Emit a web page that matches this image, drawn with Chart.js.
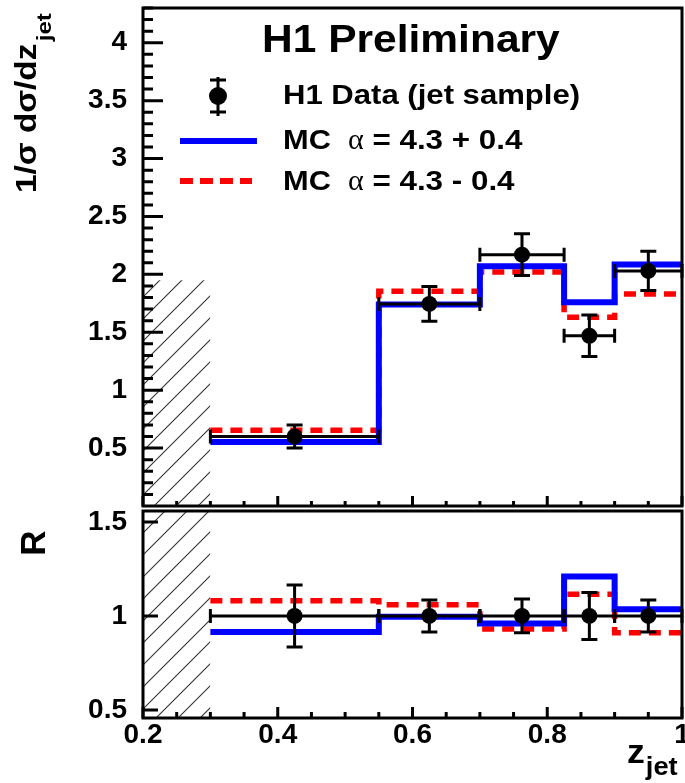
<!DOCTYPE html>
<html>
<head>
<meta charset="utf-8">
<title>H1 Preliminary - z_jet</title>
<script src="https://cdn.jsdelivr.net/npm/chart.js@4.4.0/dist/chart.umd.min.js"></script>
<style>
  html, body { margin: 0; padding: 0; background: #fff; overflow: hidden; }
  #chartTop { position: absolute; left: 0; top: 0; }
  #chartRatio { position: absolute; left: 0; top: 500px; }
</style>
</head>
<body>
<canvas id="chartTop" width="690" height="514"></canvas>
<canvas id="chartRatio" width="690" height="283"></canvas>
<script>
// bins in z_jet
var binEdges = [0.3, 0.55, 0.70, 0.825, 0.90, 1.0];
var binCenters = [0.425, 0.625, 0.7625, 0.8625, 0.95];

// upper panel: 1/sigma dsigma/dz
var dataTop = [0.60, 1.745, 2.17, 1.47, 2.03];
var dataTopErr = [0.10, 0.15, 0.18, 0.18, 0.17];
var mcPlusTop = [0.553, 1.74, 2.07, 1.76, 2.085];
var mcMinusTop = [0.655, 1.855, 2.02, 1.63, 1.83];

// lower panel: ratio R
var dataRatio = [1, 1, 1, 1, 1];
var dataRatioErr = [0.165, 0.085, 0.09, 0.125, 0.085];
var mcPlusRatio = [0.915, 0.995, 0.96, 1.21, 1.035];
var mcMinusRatio = [1.08, 1.06, 0.93, 1.115, 0.91];

// excluded region (hatched)
var hatchX = [0.2, 0.3];
var hatchTop = 1.95;
var hatchRatio = 1.6;

var xTicks = [0.2, 0.4, 0.6, 0.8, 1.0];
var yTicksTop = [0.5, 1, 1.5, 2, 2.5, 3, 3.5, 4];
var yTicksRatio = [0.5, 1, 1.5];

var legendLabels = ['H1 Data (jet sample)', 'MC  \u03b1 = 4.3 + 0.4', 'MC  \u03b1 = 4.3 - 0.4'];

var FAM = '"Liberation Sans", Arial, Helvetica, sans-serif';
Chart.defaults.font.family = FAM;
Chart.defaults.color = '#000';
var tickFont = { family: FAM, size: 28, weight: 'bold' };

function histPoints(vals) {
  var pts = vals.map(function (v, i) { return { x: binEdges[i], y: v }; });
  pts.push({ x: binEdges[binEdges.length - 1], y: vals[vals.length - 1] });
  return pts;
}

function centerPoints(vals) {
  return vals.map(function (v, i) { return { x: binCenters[i], y: v }; });
}

function hatchPattern(ctx) {
  var c = document.createElement('canvas');
  c.width = 22; c.height = 22;
  var g = c.getContext('2d');
  g.strokeStyle = '#333';
  g.lineWidth = 1.1;
  g.beginPath();
  g.moveTo(0, 22); g.lineTo(22, 0);
  g.moveTo(-11, 11); g.lineTo(11, -11);
  g.moveTo(11, 33); g.lineTo(33, 11);
  g.stroke();
  return ctx.createPattern(c, 'repeat');
}

function stretchText(ctx, text, x, y, font, sx) {
  ctx.save();
  ctx.font = font;
  ctx.translate(x, y);
  ctx.scale(sx, 1);
  ctx.fillText(text, 0, 0);
  var w = ctx.measureText(text).width * sx;
  ctx.restore();
  return w;
}

// error bars: x over the bin, y from errorY, drawn just before the markers
var errorBarPlugin = {
  id: 'errorBars',
  beforeDatasetDraw: function (chart, args) {
    var ds = chart.data.datasets[args.index];
    if (!ds.errorY) return;
    var ctx = chart.ctx, xs = chart.scales.x, ys = chart.scales.y;
    ctx.save();
    ctx.strokeStyle = '#000';
    ctx.lineWidth = 3;
    ds.data.forEach(function (p, i) {
      var px = xs.getPixelForValue(p.x), py = ys.getPixelForValue(p.y);
      var x0 = xs.getPixelForValue(binEdges[i]), x1 = xs.getPixelForValue(binEdges[i + 1]);
      var yt = ys.getPixelForValue(p.y + ds.errorY[i]), yb = ys.getPixelForValue(p.y - ds.errorY[i]);
      ctx.beginPath();
      ctx.moveTo(x0, py); ctx.lineTo(x1, py);
      ctx.moveTo(x0, py - 7); ctx.lineTo(x0, py + 7);
      ctx.moveTo(x1, py - 7); ctx.lineTo(x1, py + 7);
      ctx.moveTo(px, yt); ctx.lineTo(px, yb);
      ctx.moveTo(px - 8, yt); ctx.lineTo(px + 8, yt);
      ctx.moveTo(px - 8, yb); ctx.lineTo(px + 8, yb);
      ctx.stroke();
    });
    ctx.restore();
  }
};
Chart.register(errorBarPlugin);

// frame with inward ticks, ROOT style
function framePlugin(cfg) {
  return {
    id: 'frame',
    afterDatasetsDraw: function (chart) {
      var ctx = chart.ctx, a = chart.chartArea, xs = chart.scales.x, ys = chart.scales.y;
      ctx.save();
      ctx.strokeStyle = '#000';
      ctx.lineWidth = 3;
      ctx.beginPath();
      cfg.yMajor.forEach(function (v) {
        var py = ys.getPixelForValue(v);
        ctx.moveTo(a.left, py); ctx.lineTo(a.left + cfg.yMajLen, py);
      });
      cfg.yMinor.forEach(function (v) {
        var py = ys.getPixelForValue(v);
        ctx.moveTo(a.left, py); ctx.lineTo(a.left + cfg.yMinLen, py);
      });
      cfg.xMajor.forEach(function (v) {
        var px = xs.getPixelForValue(v);
        ctx.moveTo(px, a.bottom); ctx.lineTo(px, a.bottom - cfg.xMajLen);
      });
      cfg.xMinor.forEach(function (v) {
        var px = xs.getPixelForValue(v);
        ctx.moveTo(px, a.bottom); ctx.lineTo(px, a.bottom - cfg.xMinLen);
      });
      ctx.stroke();
      ctx.strokeRect(a.left, a.top, a.right - a.left, a.bottom - a.top);
      ctx.restore();
    }
  };
}

var yMinorTop = [];
for (var k = 1; k <= 43; k++) { if (k % 5 !== 0) yMinorTop.push(k / 10); }
var xMinor = [];
for (var m = 5; m <= 19; m++) { if (m % 4 !== 0) xMinor.push(m * 0.05); }

var topTextPlugin = {
  id: 'topText',
  afterDraw: function (chart) {
    var ctx = chart.ctx;
    ctx.save();
    ctx.fillStyle = '#000';
    ctx.strokeStyle = '#000';
    ctx.textBaseline = 'alphabetic';
    ctx.textAlign = 'left';

    stretchText(ctx, 'H1 Preliminary', 262, 52, 'bold 39px ' + FAM, 1.09);

    // legend: data marker
    ctx.lineWidth = 3;
    ctx.beginPath();
    ctx.moveTo(218, 77); ctx.lineTo(218, 116);
    ctx.moveTo(210, 80); ctx.lineTo(226, 80);
    ctx.moveTo(210, 112); ctx.lineTo(226, 112);
    ctx.stroke();
    ctx.beginPath();
    ctx.arc(218, 96, 9, 0, Math.PI * 2);
    ctx.fill();
    stretchText(ctx, legendLabels[0], 283, 104, 'bold 28px ' + FAM, 1.11);

    // legend: MC lines
    ctx.lineWidth = 6;
    ctx.strokeStyle = '#0000ff';
    ctx.beginPath(); ctx.moveTo(180, 141); ctx.lineTo(257, 141); ctx.stroke();
    ctx.strokeStyle = '#ff0000';
    ctx.setLineDash([13, 7]);
    ctx.beginPath(); ctx.moveTo(180, 181); ctx.lineTo(252, 181); ctx.stroke();
    ctx.setLineDash([]);

    var rows = [[legendLabels[1], 149], [legendLabels[2], 190]];
    rows.forEach(function (r) {
      var parts = r[0].split('\u03b1');
      var x = 283;
      x += stretchText(ctx, parts[0], x, r[1], 'bold 28px ' + FAM, 1.1);
      x += stretchText(ctx, '\u03b1', x, r[1], '30px "Liberation Serif", serif', 1.0);
      stretchText(ctx, parts[1], x, r[1], 'bold 28px ' + FAM, 1.12);
    });

    // y title 1/sigma dsigma/dz_jet
    ctx.save();
    ctx.translate(36, 193);
    ctx.rotate(-Math.PI / 2);
    ctx.scale(1.15, 1);
    ctx.font = 'bold 29px ' + FAM;
    ctx.fillText('1/\u03c3 d\u03c3/dz', 0, 0);
    var w = ctx.measureText('1/\u03c3 d\u03c3/dz').width;
    ctx.font = 'bold 21px ' + FAM;
    ctx.fillText('jet', w + 2, 15);
    ctx.restore();

    ctx.restore();
  }
};

var ratioTextPlugin = {
  id: 'ratioText',
  afterDraw: function (chart) {
    var ctx = chart.ctx;
    ctx.save();
    ctx.fillStyle = '#000';
    ctx.textBaseline = 'alphabetic';
    ctx.save();
    ctx.translate(45, 43);
    ctx.rotate(-Math.PI / 2);
    ctx.textAlign = 'center';
    ctx.font = 'bold 35px ' + FAM;
    ctx.fillText('R', 0, 0);
    ctx.restore();
    var zw = stretchText(ctx, 'z', 627, 263, 'bold 34px ' + FAM, 1.05);
    stretchText(ctx, 'jet', 627 + zw + 1, 275, 'bold 26px ' + FAM, 1.05);
    ctx.restore();
  }
};

// ---------- upper panel ----------
var ctxTop = document.getElementById('chartTop').getContext('2d');

var configTop = {
  type: 'line',
  data: {
    datasets: [{
      label: 'excluded',
      data: [{ x: hatchX[0], y: hatchTop }, { x: hatchX[1], y: hatchTop }],
      fill: 'origin',
      backgroundColor: hatchPattern(ctxTop),
      borderWidth: 0,
      pointRadius: 0,
      order: 4
    }, {
      label: legendLabels[2],
      data: histPoints(mcMinusTop),
      stepped: 'before',
      borderColor: '#ff0000',
      borderWidth: 5.5,
      borderDash: [12, 8],
      pointRadius: 0,
      fill: false,
      order: 3
    }, {
      label: legendLabels[1],
      data: histPoints(mcPlusTop),
      stepped: 'before',
      borderColor: '#0000ff',
      borderWidth: 6,
      pointRadius: 0,
      fill: false,
      order: 2
    }, {
      label: legendLabels[0],
      data: centerPoints(dataTop),
      errorY: dataTopErr,
      showLine: false,
      pointRadius: 8,
      pointBackgroundColor: '#000',
      pointBorderColor: '#000',
      pointBorderWidth: 0,
      order: 1
    }]
  },
  options: {
    responsive: false,
    animation: false,
    events: [],
    layout: { padding: { top: 6, right: 3, bottom: 2, left: 0 } },
    plugins: { legend: { display: false }, tooltip: { enabled: false } },
    scales: {
      x: { type: 'linear', min: 0.2, max: 1.0, display: false },
      y: {
        type: 'linear', min: 0, max: 4.3,
        afterBuildTicks: function (s) { s.ticks = yTicksTop.map(function (v) { return { value: v }; }); },
        afterFit: function (s) { s.width = 143; s.paddingTop = 0; s.paddingBottom = 0; },
        grid: { display: false },
        border: { display: false },
        ticks: { font: tickFont, color: '#000', padding: 8, autoSkip: false,
                 callback: function (v) { return String(v); } }
      }
    }
  },
  plugins: [framePlugin({
    yMajor: yTicksTop, yMinor: yMinorTop, yMajLen: 20, yMinLen: 10,
    xMajor: xTicks, xMinor: xMinor, xMajLen: 10, xMinLen: 5
  }), topTextPlugin]
};

var chartTop = new Chart(ctxTop, configTop);

// ---------- ratio panel ----------
var ctxRatio = document.getElementById('chartRatio').getContext('2d');

var configRatio = {
  type: 'line',
  data: {
    datasets: [{
      label: 'excluded',
      data: [{ x: hatchX[0], y: hatchRatio }, { x: hatchX[1], y: hatchRatio }],
      fill: 'start',
      backgroundColor: hatchPattern(ctxRatio),
      borderWidth: 0,
      pointRadius: 0,
      order: 4
    }, {
      label: legendLabels[2],
      data: histPoints(mcMinusRatio),
      stepped: 'before',
      borderColor: '#ff0000',
      borderWidth: 5.5,
      borderDash: [12, 8],
      pointRadius: 0,
      fill: false,
      order: 3
    }, {
      label: legendLabels[1],
      data: histPoints(mcPlusRatio),
      stepped: 'before',
      borderColor: '#0000ff',
      borderWidth: 6,
      pointRadius: 0,
      fill: false,
      order: 2
    }, {
      label: legendLabels[0],
      data: centerPoints(dataRatio),
      errorY: dataRatioErr,
      showLine: false,
      pointRadius: 8,
      pointBackgroundColor: '#000',
      pointBorderColor: '#000',
      pointBorderWidth: 0,
      order: 1
    }]
  },
  options: {
    responsive: false,
    animation: false,
    events: [],
    layout: { padding: { top: 11, right: 3, bottom: 0, left: 0 } },
    plugins: { legend: { display: false }, tooltip: { enabled: false } },
    scales: {
      x: {
        type: 'linear', min: 0.2, max: 1.0,
        afterBuildTicks: function (s) { s.ticks = xTicks.map(function (v) { return { value: v }; }); },
        afterFit: function (s) { s.height = 65; s.paddingLeft = 0; s.paddingRight = 0; },
        grid: { display: false },
        border: { display: false },
        ticks: { font: tickFont, color: '#000', padding: -8, autoSkip: false, maxRotation: 0,
                 callback: function (v) { return String(v); } }
      },
      y: {
        type: 'linear', min: 0.457, max: 1.558,
        afterBuildTicks: function (s) { s.ticks = yTicksRatio.map(function (v) { return { value: v }; }); },
        afterFit: function (s) { s.width = 143; s.paddingTop = 0; s.paddingBottom = 0; },
        grid: { display: false },
        border: { display: false },
        ticks: { font: tickFont, color: '#000', padding: 8, autoSkip: false,
                 callback: function (v) { return String(v); } }
      }
    }
  },
  plugins: [framePlugin({
    yMajor: yTicksRatio, yMinor: [], yMajLen: 15, yMinLen: 0,
    xMajor: xTicks, xMinor: xMinor, xMajLen: 11, xMinLen: 6
  }), ratioTextPlugin]
};

var chartRatio = new Chart(ctxRatio, configRatio);
</script>
</body>
</html>
